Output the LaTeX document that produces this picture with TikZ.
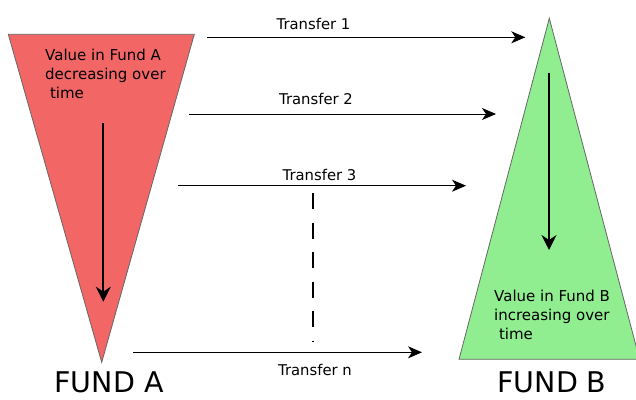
\documentclass[tikz,border=0pt]{standalone}
\usepackage{fontspec}
\setmainfont{DejaVu Sans}
\usepackage{xcolor}
\usetikzlibrary{arrows.meta}

\definecolor{fundred}{RGB}{243,102,102}
\definecolor{fundgreen}{RGB}{144,238,144}

\begin{document}
\begin{tikzpicture}[x=1pt, y=-1pt,
  fund/.style={draw=black!60, line width=0.8pt},
  xfer/.style={-{Stealth[length=14pt, width=12pt, inset=4pt]}, line width=1pt},
  flow/.style={-{Stealth[length=15pt, width=15pt, inset=5pt]}, line width=2pt},
  lbl/.style={font=\fontsize{14.8}{18}\selectfont, anchor=base, inner sep=0pt},
  val/.style={font=\fontsize{15}{19}\selectfont, align=left, anchor=base west, inner sep=0pt},
  fundname/.style={font=\fontsize{28.5}{34}\selectfont, anchor=base, inner sep=0pt},
]
  \useasboundingbox (0,0) rectangle (636,399);

  % the two funds
  \filldraw[fund, fill=fundred]   (8.3,34.3) -- (194.3,34.3) -- (101.7,362.3) -- cycle;
  \filldraw[fund, fill=fundgreen] (549.3,18.3) -- (639.6,359.3) -- (459,359.3) -- cycle;

  \node[val] (VA) at (45,98.3) {Value in Fund A\\decreasing over\\\hspace*{4.8pt}time};
  \node[val] (VB) at (494,339) {Value in Fund B\\increasing over\\\hspace*{4.8pt}time};

  \node[fundname] (FA) at (109,392.5) {FUND A};
  \node[fundname] (FB) at (552,392.5) {FUND B};

  % value trend inside each fund
  \coordinate (A1) at (103.3,123.3);
  \coordinate (A2) at (103.3,301.7);
  \coordinate (B1) at (549,72.7);
  \coordinate (B2) at (549,250);
  \draw[flow] (A1) -- (A2);
  \draw[flow] (B1) -- (B2);

  % transfers
  \coordinate (S1) at (207.3,37.3);  \coordinate (E1) at (525.3,37.3);
  \coordinate (S2) at (189,114);     \coordinate (E2) at (496,114);
  \coordinate (S3) at (178.3,185.7); \coordinate (E3) at (466,185.7);
  \coordinate (SN) at (133.3,352.3); \coordinate (EN) at (422,352.3);

  \draw[xfer] (S1) -- (E1);
  \draw[xfer] (S2) -- (E2);
  \draw[xfer] (S3) -- (E3);
  \draw[xfer] (SN) -- (EN);

  \node[lbl] (T1) at (313.5,29)  {Transfer 1};
  \node[lbl] (T2) at (316,104.3) {Transfer 2};
  \node[lbl] (T3) at (319.5,180) {Transfer 3};
  \node[lbl] (TN) at (315,375)   {Transfer n};

  \coordinate (D1) at (312.7,193);
  \coordinate (D2) at (312.7,342);
  \draw[line width=1.6pt, dash pattern=on 16pt off 13.5pt] (D1) -- (D2);
\end{tikzpicture}
\end{document}
